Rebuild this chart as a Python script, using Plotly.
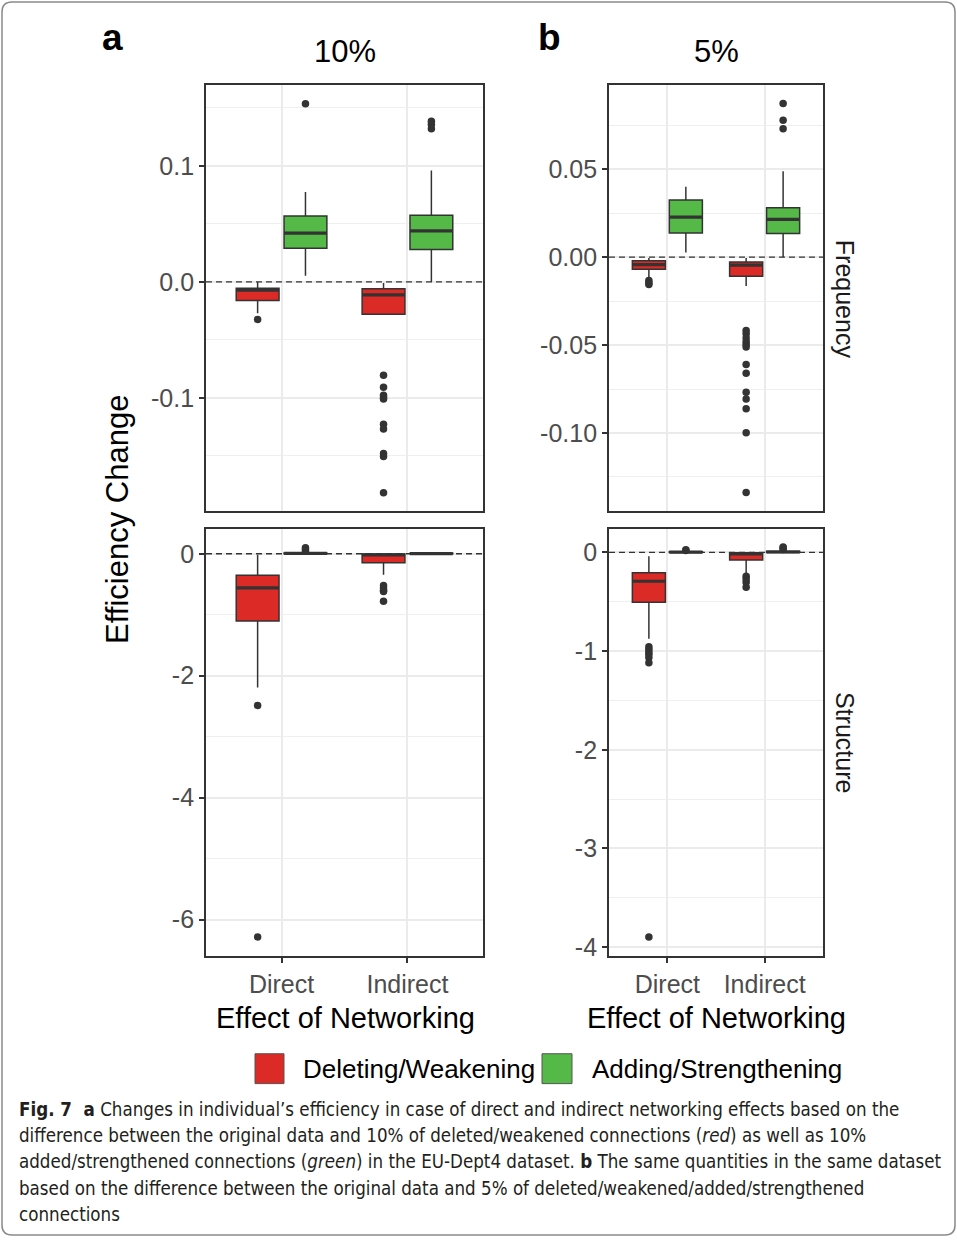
import plotly.graph_objects as go

# ---------------- data ----------------
categories = ["Direct", "Indirect"]
series_names = ["Deleting/Weakening", "Adding/Strengthening"]

# 10% - Frequency
freq10_del_q1 = [-0.016, -0.0278]
freq10_del_med = [-0.0072, -0.0112]
freq10_del_q3 = [-0.0054, -0.0060]
freq10_del_lo = [-0.027, -0.0285]
freq10_del_hi = [0.0, -0.001]
freq10_del_out = [[-0.0323],
                  [-0.0804, -0.0907, -0.0976, -0.0999, -0.101, -0.1227, -0.1268, -0.148, -0.1505, -0.1817]]
freq10_add_q1 = [0.0289, 0.0280]
freq10_add_med = [0.0420, 0.0440]
freq10_add_q3 = [0.0567, 0.0575]
freq10_add_lo = [0.0054, 0.0]
freq10_add_hi = [0.0775, 0.0961]
freq10_add_out = [[0.1536], [0.1319, 0.1356, 0.1385]]

# 5% - Frequency
freq5_del_q1 = [-0.0068, -0.0109]
freq5_del_med = [-0.0042, -0.0045]
freq5_del_q3 = [-0.0021, -0.0028]
freq5_del_lo = [-0.0123, -0.0164]
freq5_del_hi = [-0.0004, -0.0004]
freq5_del_out = [[-0.0132, -0.0147, -0.0155],
                 [-0.0417, -0.0436, -0.046, -0.0481, -0.0496, -0.0511, -0.061, -0.066,
                  -0.0768, -0.0806, -0.0862, -0.0998, -0.1338]]
freq5_add_q1 = [0.0138, 0.0134]
freq5_add_med = [0.0228, 0.0215]
freq5_add_q3 = [0.0325, 0.0281]
freq5_add_lo = [0.0026, 0.0]
freq5_add_hi = [0.0400, 0.0489]
freq5_add_out = [[], [0.0730, 0.0779, 0.0874]]

# 10% - Structure
struct10_del_q1 = [-1.104, -0.147]
struct10_del_med = [-0.560, -0.020]
struct10_del_q3 = [-0.354, -0.005]
struct10_del_lo = [-2.192, -0.343]
struct10_del_hi = [-0.016, 0.0]
struct10_del_out = [[-2.486, -6.282], [-0.52, -0.56, -0.60, -0.62, -0.78]]
struct10_add_q1 = [0.0, 0.0]
struct10_add_med = [0.005, 0.003]
struct10_add_q3 = [0.012, 0.008]
struct10_add_lo = [0.0, 0.0]
struct10_add_hi = [0.025, 0.015]
struct10_add_out = [[0.04, 0.07, 0.10], []]

# 5% - Structure
struct5_del_q1 = [-0.504, -0.077]
struct5_del_med = [-0.292, -0.015]
struct5_del_q3 = [-0.205, -0.003]
struct5_del_lo = [-0.874, -0.208]
struct5_del_hi = [-0.040, 0.0]
struct5_del_out = [[-0.955, -0.981, -1.008, -1.032, -1.066, -1.119, -3.896],
                   [-0.242, -0.269, -0.303, -0.353]]
struct5_add_q1 = [0.0, 0.0]
struct5_add_med = [0.003, 0.004]
struct5_add_q3 = [0.008, 0.012]
struct5_add_lo = [0.0, 0.0]
struct5_add_hi = [0.015, 0.020]
struct5_add_out = [[0.020, 0.027], [0.030, 0.045, 0.054]]

# tick labels
tl_ticks = [-0.1, 0.0, 0.1]
tl_ticktext = ["-0.1", "0.0", "0.1"]
tr_ticks = [-0.10, -0.05, 0.0, 0.05]
tr_ticktext = ["-0.10", "-0.05", "0.00", "0.05"]
bl_ticks = [-6, -4, -2, 0]
bl_ticktext = ["-6", "-4", "-2", "0"]
br_ticks = [-4, -3, -2, -1, 0]
br_ticktext = ["-4", "-3", "-2", "-1", "0"]

# ---------------- layout helpers ----------------
W, H = 957, 1242
RED = "#DC2A27"
GREEN = "#55B948"
DARK = "#333333"
FONT = "Liberation Sans, Arial, Helvetica, sans-serif"

def px_x(a, b):
    return [a / W, b / W]

def px_y(top, bottom):
    return [1 - bottom / H, 1 - top / H]

def px(xp, yp):
    return xp / W, 1 - yp / H

fig = go.Figure()

OFF = 0.19
BW = 0.34
positions = [1, 2]

panels = [
    ("", [(freq10_del_q1, freq10_del_med, freq10_del_q3, freq10_del_lo, freq10_del_hi, freq10_del_out),
          (freq10_add_q1, freq10_add_med, freq10_add_q3, freq10_add_lo, freq10_add_hi, freq10_add_out)]),
    ("2", [(freq5_del_q1, freq5_del_med, freq5_del_q3, freq5_del_lo, freq5_del_hi, freq5_del_out),
           (freq5_add_q1, freq5_add_med, freq5_add_q3, freq5_add_lo, freq5_add_hi, freq5_add_out)]),
    ("3", [(struct10_del_q1, struct10_del_med, struct10_del_q3, struct10_del_lo, struct10_del_hi, struct10_del_out),
           (struct10_add_q1, struct10_add_med, struct10_add_q3, struct10_add_lo, struct10_add_hi, struct10_add_out)]),
    ("4", [(struct5_del_q1, struct5_del_med, struct5_del_q3, struct5_del_lo, struct5_del_hi, struct5_del_out),
           (struct5_add_q1, struct5_add_med, struct5_add_q3, struct5_add_lo, struct5_add_hi, struct5_add_out)]),
]

for suffix, series in panels:
    xa = "x" + suffix
    ya = "y" + suffix
    for si, (q1, med, q3, lo, hi, out) in enumerate(series):
        color = RED if si == 0 else GREEN
        off = -OFF if si == 0 else OFF
        xs = [p + off for p in positions]
        fig.add_trace(go.Box(
            x=xs, q1=q1, median=med, q3=q3, lowerfence=lo, upperfence=hi,
            width=BW, fillcolor=color, line=dict(color=DARK, width=1.5),
            whiskerwidth=0, boxpoints=False, showlegend=False,
            name=series_names[si], xaxis=xa, yaxis=ya, hoverinfo="skip"))
        # thicker median line (ggplot style)
        mx, my = [], []
        for x0, m in zip(xs, med):
            mx += [x0 - BW / 2, x0 + BW / 2, None]
            my += [m, m, None]
        fig.add_trace(go.Scatter(x=mx, y=my, mode="lines",
                                 line=dict(color=DARK, width=3.2),
                                 showlegend=False, xaxis=xa, yaxis=ya, hoverinfo="skip"))
        ox, oy = [], []
        for x0, pts in zip(xs, out):
            ox += [x0] * len(pts)
            oy += pts
        if ox:
            fig.add_trace(go.Scatter(x=ox, y=oy, mode="markers",
                                     marker=dict(color=DARK, size=7.5),
                                     showlegend=False, xaxis=xa, yaxis=ya, hoverinfo="skip"))

axis_common = dict(showline=True, mirror=True, linecolor=DARK, linewidth=1.8,
                   zeroline=False, gridcolor="#EBEBEB", gridwidth=1.6)

def xaxis(domain, anchor, labels):
    d = dict(axis_common, domain=domain, anchor=anchor, range=[0.4, 2.6],
             tickmode="array", tickvals=positions, ticktext=categories,
             showgrid=True)
    if labels:
        d.update(ticks="outside", ticklen=5, tickwidth=1.8, tickcolor=DARK,
                 showticklabels=True, tickfont=dict(family=FONT, size=25, color="#4D4D4D"))
    else:
        d.update(ticks="", showticklabels=False)
    return d

def yaxis(domain, anchor, rng, tv, tt, minor_vals):
    return dict(axis_common, domain=domain, anchor=anchor, range=rng,
                tickmode="array", tickvals=tv, ticktext=tt,
                ticks="outside", ticklen=5, tickwidth=1.8, tickcolor=DARK,
                tickfont=dict(family=FONT, size=25, color="#4D4D4D"),
                showgrid=True,
                minor=dict(tickmode="array", tickvals=minor_vals, showgrid=True,
                           gridcolor="#EFEFEF", gridwidth=0.9, ticks=""))

fig.update_layout(
    xaxis=xaxis(px_x(206, 483), "y", False),
    xaxis2=xaxis(px_x(609, 823), "y2", False),
    xaxis3=xaxis(px_x(206, 483), "y3", True),
    xaxis4=xaxis(px_x(609, 823), "y4", True),
    yaxis=yaxis(px_y(85, 513), "x", [-0.1974, 0.170], tl_ticks, tl_ticktext, [-0.15, -0.05, 0.05, 0.15]),
    yaxis2=yaxis(px_y(85, 513), "x2", [-0.1443, 0.0981], tr_ticks, tr_ticktext,
                 [-0.125, -0.075, -0.025, 0.025, 0.075]),
    yaxis3=yaxis(px_y(531, 960), "x3", [-6.597, 0.408], bl_ticks, bl_ticktext, [-5, -3, -1]),
    yaxis4=yaxis(px_y(531, 960), "x4", [-4.091, 0.2387], br_ticks, br_ticktext,
                 [-3.5, -2.5, -1.5, -0.5]),
)

shapes = []
# dashed zero lines
for suffix in ["", "2", "3", "4"]:
    shapes.append(dict(type="line", xref=("x" + suffix + " domain"), yref=("y" + suffix),
                       x0=0, x1=1, y0=0, y1=0,
                       line=dict(color=DARK, width=1.3, dash="6px,4px"), layer="above"))

# legend keys
for (x0, x1, col) in [(255, 284, RED), (542, 572, GREEN)]:
    ax0, ay0 = px(x0, 1088)
    ax1, ay1 = px(x1, 1058)
    shapes.append(dict(type="rect", xref="paper", yref="paper", x0=ax0, x1=ax1, y0=ay0, y1=ay1,
                       fillcolor=col, line=dict(color="#555555", width=1)))

# rounded figure border
def P(x, y):
    a, b = px(x, y)
    return f"{a:.6f},{b:.6f}"
r = 10
L, T, R, B = 2, 2, 955, 1240
path = (f"M {P(L + r, T)} L {P(R - r, T)} Q {P(R, T)} {P(R, T + r)} "
        f"L {P(R, B - r)} Q {P(R, B)} {P(R - r, B)} L {P(L + r, B)} "
        f"Q {P(L, B)} {P(L, B - r)} L {P(L, T + r)} Q {P(L, T)} {P(L + r, T)} Z")
shapes.append(dict(type="path", xref="paper", yref="paper", path=path,
                   line=dict(color="#8A8A8A", width=1.5)))

fig.update_layout(shapes=shapes)

ann = []
def text(x, y, s, size, color="black", angle=0, xanchor="center", family=FONT):
    ax, ay = px(x, y)
    ann.append(dict(xref="paper", yref="paper", x=ax, y=ay, text=s, showarrow=False,
                    xanchor=xanchor, yanchor="middle", textangle=angle,
                    font=dict(family=family, size=size, color=color)))

text(112, 38, "<b>a</b>", 37)
text(549, 38, "<b>b</b>", 37)
text(345, 52, "10%", 31)
text(716, 52, "5%", 31)
text(118, 522, "Efficiency Change", 31, angle=-90)
text(845, 300, "Frequency", 25, color="#1A1A1A", angle=90)
text(845, 745, "Structure", 25, color="#1A1A1A", angle=90)
text(345, 1022, "Effect of Networking", 29)
text(716, 1022, "Effect of Networking", 29)
text(301, 1073, "Deleting/Weakening", 26, xanchor="left")
text(590, 1073, "Adding/Strengthening", 26, xanchor="left")

CAP = "DejaVu Sans Condensed, Liberation Sans Narrow, sans-serif"
cap_lines = [
    "<b>Fig. 7  a</b> Changes in individual’s efficiency in case of direct and indirect networking effects based on the",
    "difference between the original data and 10% of deleted/weakened connections (<i>red</i>) as well as 10%",
    "added/strengthened connections (<i>green</i>) in the EU-Dept4 dataset. <b>b</b> The same quantities in the same dataset",
    "based on the difference between the original data and 5% of deleted/weakened/added/strengthened",
    "connections",
]
cap_y = [1114, 1140, 1166, 1193, 1219]
for s, yy in zip(cap_lines, cap_y):
    text(17, yy, s, 18.6, color="#231F20", xanchor="left", family=CAP)

fig.update_layout(annotations=ann, width=W, height=H,
                  margin=dict(l=0, r=0, t=0, b=0),
                  paper_bgcolor="white", plot_bgcolor="white",
                  showlegend=False, font=dict(family=FONT))

fig.write_html("out.html", config={"displayModeBar": False},
               post_script="document.body.style.margin='0';document.body.style.overflow='hidden';")
